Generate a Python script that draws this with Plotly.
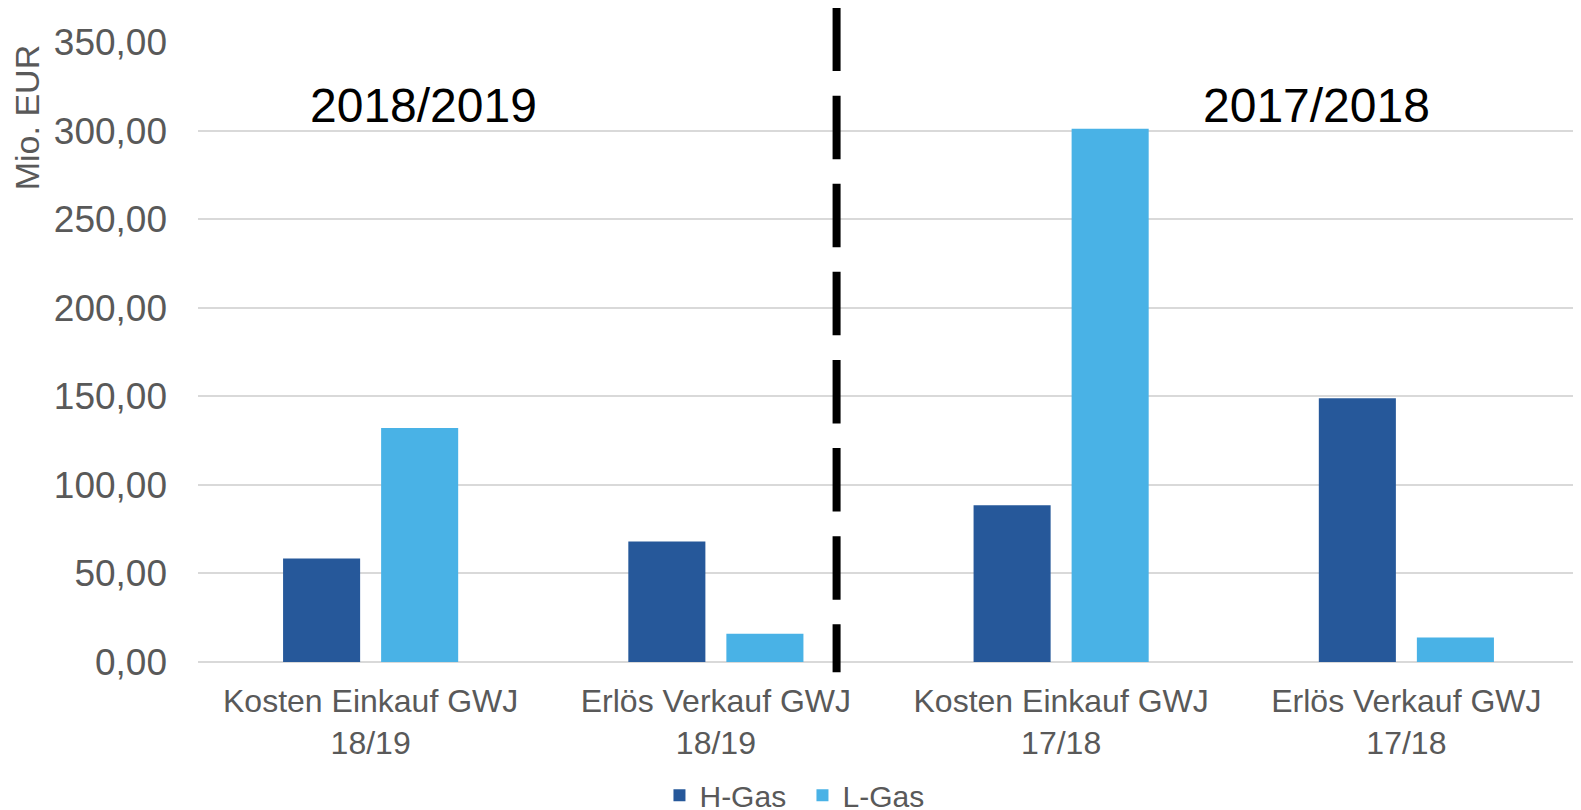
import plotly.graph_objects as go

categories = ["Kosten Einkauf GWJ<br>18/19", "Erlös Verkauf GWJ<br>18/19",
              "Kosten Einkauf GWJ<br>17/18", "Erlös Verkauf GWJ<br>17/18"]
h_gas = [58.4, 68.0, 88.5, 148.9]
l_gas = [132.1, 16.0, 301.0, 13.8]
y_ticks = [0, 50, 100, 150, 200, 250, 300, 350]

FONT = "Liberation Sans, Arial, sans-serif"
GREY = "#595959"

fig = go.Figure()
fig.add_trace(go.Bar(name="H-Gas", x=categories, y=h_gas, marker_color="#26589A",
                     marker_line=dict(width=0)))
fig.add_trace(go.Bar(name="L-Gas", x=categories, y=l_gas, marker_color="#49B2E6",
                     marker_line=dict(width=0)))

fig.update_layout(
    width=1573, height=802,
    margin=dict(l=190, r=2, t=34, b=148, autoexpand=False),
    paper_bgcolor="white", plot_bgcolor="white",
    separators=",.",
    barmode="group", bargap=0.432, bargroupgap=0.214,
    font=dict(family=FONT, color=GREY),
    showlegend=True,
    legend=dict(orientation="h", xref="paper", yref="paper",
                x=0.4377, y=-0.2150, xanchor="center", yanchor="middle",
                entrywidth=98, entrywidthmode="pixels",
                font=dict(size=30, color=GREY, family=FONT), traceorder="normal"),
    xaxis=dict(showgrid=False, showline=False, ticks="", ticklabelstandoff=17,
               tickfont=dict(size=32, color=GREY, family=FONT)),
    yaxis=dict(range=[0, 350], tickvals=y_ticks, tickformat=".2f",
               showgrid=True, gridcolor="#D9D9D9", gridwidth=1.5,
               zeroline=True, zerolinecolor="#D9D9D9", zerolinewidth=1.5,
               showline=False, ticks="", ticklabelstandoff=30,
               tickfont=dict(size=37, color=GREY, family=FONT)),
)

fig.add_shape(type="line", xref="paper", yref="paper",
              x0=0.4624, x1=0.4624, y0=1.0556, y1=-0.0166,
              line=dict(color="black", width=8, dash="63.5px,24.6px"))

fig.add_annotation(text="2018/2019", xref="paper", yref="paper", x=0.1634, y=0.8968,
                   xanchor="center", yanchor="middle",
                   showarrow=False, font=dict(size=48, color="black", family=FONT))
fig.add_annotation(text="2017/2018", xref="paper", yref="paper", x=0.8096, y=0.8968,
                   xanchor="center", yanchor="middle",
                   showarrow=False, font=dict(size=48, color="black", family=FONT))
fig.add_annotation(text="Mio. EUR", xref="paper", yref="paper", x=-0.1241, y=0.878,
                   xanchor="center", yanchor="middle",
                   textangle=-90, showarrow=False,
                   font=dict(size=34, color=GREY, family=FONT))

fig.write_html("out.html")
